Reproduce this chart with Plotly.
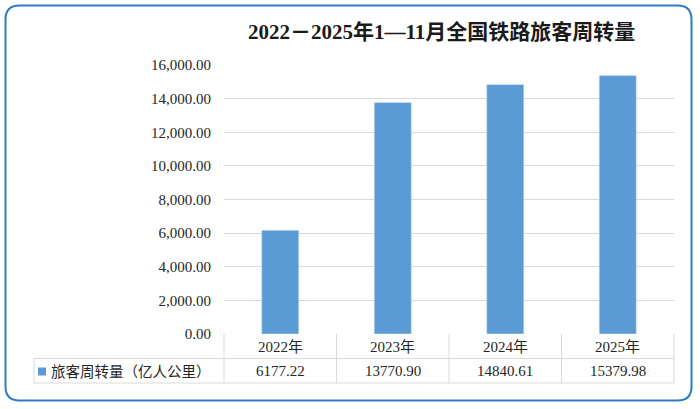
import plotly.graph_objects as go

categories = ["2022年", "2023年", "2024年", "2025年"]
values = [6177.22, 13770.90, 14840.61, 15379.98]
value_labels = ["6177.22", "13770.90", "14840.61", "15379.98"]
series_name = "旅客周转量（亿人公里）"
title_text = "2022－2025年1—11月全国铁路旅客周转量"
tick_vals = [0, 2000, 4000, 6000, 8000, 10000, 12000, 14000, 16000]
tick_text = ["0.00", "2,000.00", "4,000.00", "6,000.00", "8,000.00",
             "10,000.00", "12,000.00", "14,000.00", "16,000.00"]

W, H = 700, 409
L, R, T, B = 224, 26, 65, 75
PW, PH = W - L - R, H - T - B

def px(x):
    return (x - L) / PW

def py(y):
    return (H - B - y) / PH

SERIF = "Liberation Serif, Times New Roman, Noto Sans CJK SC, serif"
CJK = "Noto Sans CJK SC, sans-serif"
BLUE = "#5B9BD5"
GRID = "#D9D9D9"
TXT = "#262626"

fig = go.Figure()
fig.add_trace(go.Bar(x=categories, y=values, marker_color=BLUE, width=0.33,
                     name=series_name, showlegend=False))

shapes = []
col_edges = [224, 336.5, 449, 561.5, 674]
for y in [358.5, 383]:
    shapes.append(dict(type="line", xref="paper", yref="paper",
                       x0=px(34), x1=px(674), y0=py(y), y1=py(y),
                       line=dict(color=GRID, width=1)))
for x in col_edges:
    shapes.append(dict(type="line", xref="paper", yref="paper",
                       x0=px(x), x1=px(x), y0=py(334), y1=py(383),
                       line=dict(color=GRID, width=1)))
shapes.append(dict(type="line", xref="paper", yref="paper",
                   x0=px(34), x1=px(34), y0=py(358.5), y1=py(383),
                   line=dict(color=GRID, width=1)))
shapes.append(dict(type="rect", xref="paper", yref="paper",
                   x0=px(38), x1=px(46), y0=py(367.5), y1=py(375.5),
                   fillcolor=BLUE, line=dict(width=0)))
x0, x1, y0, y1 = 5.5, 691.5, 5.5, 400.5
r = 14
def P(x, y):
    return f"{px(x):.5f},{py(y):.5f}"
path = (f"M {P(x0 + r, y0)} L {P(x1 - r, y0)} Q {P(x1, y0)} {P(x1, y0 + r)} "
        f"L {P(x1, y1 - r)} Q {P(x1, y1)} {P(x1 - r, y1)} "
        f"L {P(x0 + r, y1)} Q {P(x0, y1)} {P(x0, y1 - r)} "
        f"L {P(x0, y0 + r)} Q {P(x0, y0)} {P(x0 + r, y0)} Z")
shapes.append(dict(type="path", xref="paper", yref="paper", path=path,
                   line=dict(color="#2E7BC4", width=2)))

annotations = []
annotations.append(dict(text="<b>" + title_text + "</b>", xref="paper", yref="paper",
                        x=px(441), y=py(32), showarrow=False,
                        font=dict(family=SERIF, size=21, color="#1a1a1a"),
                        xanchor="center", yanchor="middle"))
for c, v in zip(categories, value_labels):
    annotations.append(dict(text=c, xref="x", yref="paper", x=c, y=py(346.5),
                            showarrow=False, xanchor="center", yanchor="middle",
                            font=dict(family=SERIF, size=15, color=TXT)))
    annotations.append(dict(text=v, xref="x", yref="paper", x=c, y=py(371),
                            showarrow=False, xanchor="center", yanchor="middle",
                            font=dict(family=SERIF, size=15, color=TXT)))
annotations.append(dict(text=series_name, xref="paper", yref="paper",
                        x=px(49), y=py(371), showarrow=False,
                        xanchor="left", yanchor="middle",
                        font=dict(family=CJK, size=14.5, color=TXT)))

fig.update_layout(
    width=W, height=H,
    margin=dict(l=L, r=R, t=T, b=B, pad=0),
    paper_bgcolor="white", plot_bgcolor="white",
    xaxis=dict(showticklabels=False, showgrid=False, zeroline=False,
               showline=False, ticks=""),
    yaxis=dict(range=[0, 16000], tickvals=tick_vals, ticktext=tick_text,
               showgrid=True, gridcolor=GRID, gridwidth=1, zeroline=False,
               showline=False, ticks="", ticklabelstandoff=12,
               tickfont=dict(family=SERIF, size=15, color=TXT)),
    shapes=shapes, annotations=annotations,
)
fig.write_html("out.html", config={"displayModeBar": False},
               post_script="document.body.style.margin='0';document.body.style.padding='0';")
